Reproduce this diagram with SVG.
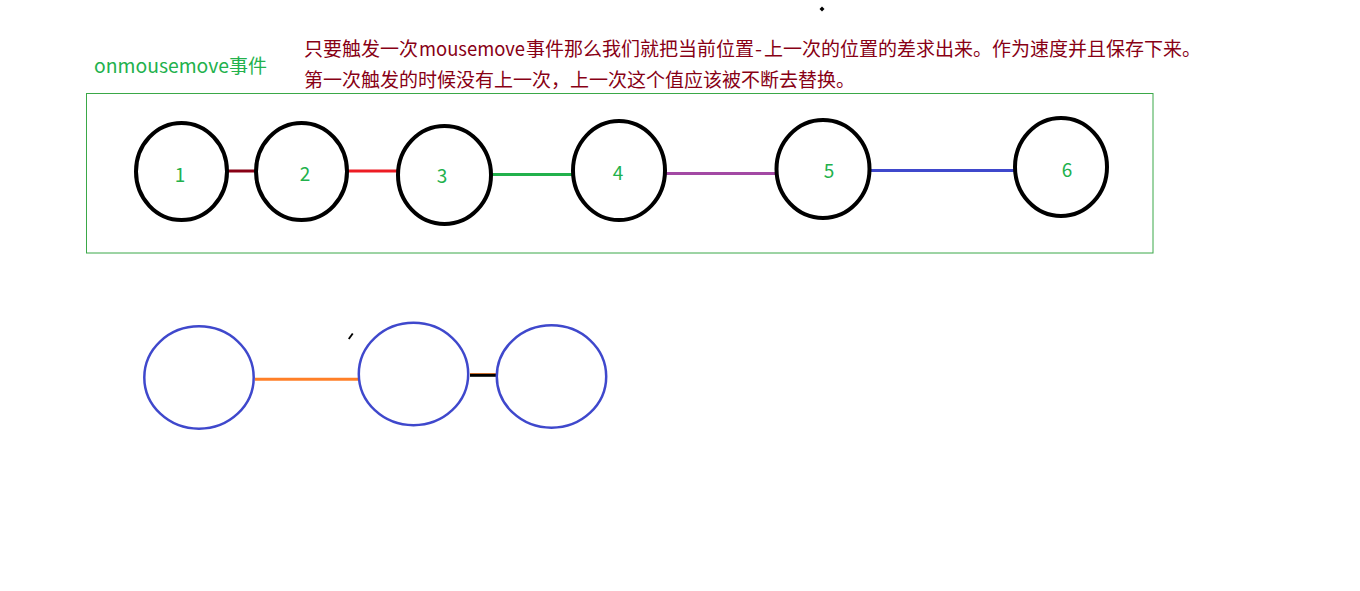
<svg xmlns="http://www.w3.org/2000/svg" width="1360" height="591" viewBox="0 0 1360 591">
<style>
  .txt { font-family: "Noto Sans CJK SC", "Noto Sans", sans-serif; font-size: 19px; }
  .red { fill: #880015; }
  .grn { fill: #22b14c; }
  .num { font-family: "Noto Sans CJK SC", "Noto Sans", sans-serif; font-size: 19px; fill: #22b14c; text-anchor: middle; }
  .bk { fill: none; stroke: #000; stroke-width: 4; }
  .bl { fill: none; stroke: #3f48cc; stroke-width: 2.5; }
  .ln { fill: none; stroke-width: 3; }
</style>
<rect width="1360" height="591" fill="#fff"/>

<g id="notes">
  <text class="txt grn" y="73"><tspan x="94" textLength="135" lengthAdjust="spacingAndGlyphs">onmousemove</tspan><tspan x="229">事件</tspan></text>
  <text class="txt red" y="56"><tspan x="304">只要触发一次</tspan><tspan x="419" textLength="106" lengthAdjust="spacingAndGlyphs">mousemove</tspan><tspan x="526">事件那么我们就把当前位置</tspan><tspan x="755" textLength="7" lengthAdjust="spacingAndGlyphs">-</tspan><tspan x="764">上一次的位置的差求出来。作为速度并且保存下来。</tspan></text>
  <text class="txt red" x="304" y="87">第一次触发的时候没有上一次，上一次这个值应该被不断去替换。</text>
</g>

<g id="frame">
  <rect x="86.5" y="93.5" width="1066.5" height="159.5" fill="none" stroke="#3aa848" stroke-width="1"/>
</g>

<g id="connectors">
  <line class="ln" x1="228" y1="171" x2="255" y2="171" stroke="#880015"/>
  <line class="ln" x1="348" y1="171" x2="397" y2="171" stroke="#ed1c24"/>
  <line class="ln" x1="492" y1="174.5" x2="573" y2="174.5" stroke="#22b14c"/>
  <line class="ln" x1="666" y1="173.5" x2="776" y2="173.5" stroke="#a349a4"/>
  <line class="ln" x1="870" y1="170.5" x2="1014" y2="170.5" stroke="#3f48cc"/>
  <line class="ln" x1="255" y1="379.3" x2="360" y2="379.3" stroke="#ff7f27"/>
  <line x1="470" y1="373.6" x2="496" y2="373.6" stroke="#ff7f27" stroke-width="1"/>
  <line class="ln" x1="470" y1="375.3" x2="496" y2="375.3" stroke="#000"/>
</g>

<g id="node1"><ellipse class="bk" cx="181.5" cy="171.5" rx="45.5" ry="48.5"/><text class="num" x="180" y="182">1</text></g>
<g id="node2"><ellipse class="bk" cx="301.5" cy="171.5" rx="45.5" ry="48.5"/><text class="num" x="305" y="181">2</text></g>
<g id="node3"><ellipse class="bk" cx="444.5" cy="175" rx="46.5" ry="49"/><text class="num" x="442" y="183">3</text></g>
<g id="node4"><ellipse class="bk" cx="619" cy="170.5" rx="46" ry="49.5"/><text class="num" x="618" y="180">4</text></g>
<g id="node5"><ellipse class="bk" cx="823" cy="169" rx="46.5" ry="49"/><text class="num" x="829" y="178">5</text></g>
<g id="node6"><ellipse class="bk" cx="1061" cy="167" rx="46" ry="49"/><text class="num" x="1067" y="177">6</text></g>

<g id="nodeA"><ellipse class="bl" cx="199" cy="377.5" rx="54.7" ry="51.2"/></g>
<g id="nodeB"><ellipse class="bl" cx="413.5" cy="374" rx="54.7" ry="51.2"/></g>
<g id="nodeC"><ellipse class="bl" cx="551.5" cy="376.5" rx="54.7" ry="51.2"/></g>

<g id="marks" fill="#000">
  <path d="M822 6.5 L824.5 9 L822 11.5 L819.5 9 Z"/>
  <path d="M352 333 L353.5 334 L349.5 339.5 L348 338.5 Z"/>
</g>
</svg>
